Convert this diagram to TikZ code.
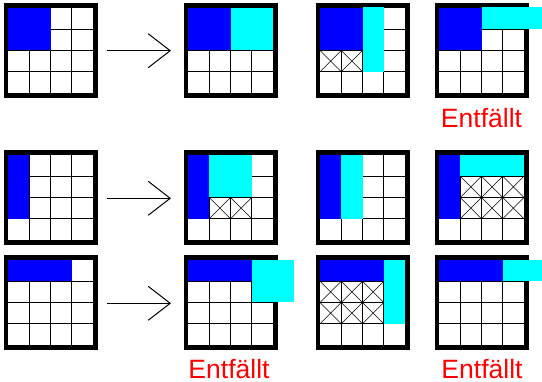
\documentclass[tikz,border=0pt]{standalone}
\usepackage{fontspec}
\setmainfont{Liberation Sans}
\usetikzlibrary{arrows.meta}
\definecolor{myblue}{RGB}{0,0,255}
\definecolor{mycyan}{RGB}{0,255,255}
\definecolor{myred}{RGB}{255,0,0}
\def\cw{21.25}
\tikzset{
  gl/.style={draw=black, line width=0.8pt},
  xl/.style={draw=black, line width=0.7pt},
  frame/.style={draw=black, line width=4.6pt},
  bluefill/.style={fill=myblue},
  cyanfill/.style={fill=mycyan},
  lbl/.style={text=myred, font=\fontsize{26.5pt}{30pt}\selectfont, inner sep=0pt, anchor=base},
  arr/.style={draw=black, line width=1pt, -{Straight Barb[length=22pt,width=34pt]}}
}
\newcommand\mygridlines{%
  \foreach \i in {1,2,3} {\draw[gl] (\i*\cw,0) -- (\i*\cw,85); \draw[gl] (0,\i*\cw) -- (85,\i*\cw);}}
\newcommand\myxcell[2]{\draw[xl] (#1*\cw,#2*\cw) -- ++(\cw,\cw) (#1*\cw+\cw,#2*\cw) -- ++(-\cw,\cw);}
\newcommand\myframe{\draw[frame] (-2.2,-2.2) rectangle (87.4,87.4);}
\begin{document}
\begin{tikzpicture}[x=1pt,y=-1pt]
\useasboundingbox (0,0) rectangle (542,382);
% ---------- row 1 ----------
\begin{scope}[shift={(8,8)}]
  \mygridlines
  \fill[bluefill] (0,0) rectangle (2*\cw,2*\cw);
  \myframe
\end{scope}
\begin{scope}[shift={(188,8)}]
  \mygridlines
  \fill[bluefill] (0,0) rectangle (2*\cw,2*\cw);
  \myframe
  \fill[cyanfill] (2*\cw,0) rectangle (4*\cw,2*\cw);
\end{scope}
\begin{scope}[shift={(320,8)}]
  \mygridlines
  \myxcell{0}{2}\myxcell{1}{2}
  \fill[bluefill] (0,0) rectangle (2*\cw,2*\cw);
  \myframe
  \fill[cyanfill] (2*\cw,-1.3) rectangle (3*\cw,3*\cw);
\end{scope}
\begin{scope}[shift={(439,8)}]
  \mygridlines
  \fill[bluefill] (0,0) rectangle (2*\cw,2*\cw);
  \myframe
  \fill[cyanfill] (2*\cw,-0.7) rectangle (103,\cw);
\end{scope}
% ---------- row 2 ----------
\begin{scope}[shift={(8,155)}]
  \mygridlines
  \fill[bluefill] (0,0) rectangle (\cw,3*\cw);
  \myframe
\end{scope}
\begin{scope}[shift={(188,155)}]
  \mygridlines
  \myxcell{1}{2}\myxcell{2}{2}
  \fill[bluefill] (0,0) rectangle (\cw,3*\cw);
  \myframe
  \fill[cyanfill] (\cw,0) rectangle (3*\cw,2*\cw);
\end{scope}
\begin{scope}[shift={(320,155)}]
  \mygridlines
  \fill[bluefill] (0,0) rectangle (\cw,3*\cw);
  \myframe
  \fill[cyanfill] (\cw,0) rectangle (2*\cw,3*\cw);
\end{scope}
\begin{scope}[shift={(439,155)}]
  \mygridlines
  \foreach \i in {1,2,3} {\foreach \j in {1,2} {\myxcell{\i}{\j}}}
  \fill[bluefill] (0,0) rectangle (\cw,3*\cw);
  \myframe
  \fill[cyanfill] (\cw,0) rectangle (4*\cw,\cw);
\end{scope}
% ---------- row 3 ----------
\begin{scope}[shift={(8,260)}]
  \mygridlines
  \fill[bluefill] (0,0) rectangle (3*\cw,\cw);
  \myframe
\end{scope}
\begin{scope}[shift={(188,260)}]
  \mygridlines
  \fill[bluefill] (0,0) rectangle (3*\cw,\cw);
  \myframe
  \fill[cyanfill] (3*\cw,0.5) rectangle (5*\cw,2*\cw);
\end{scope}
\begin{scope}[shift={(320,260)}]
  \mygridlines
  \foreach \i in {0,1,2} {\foreach \j in {1,2} {\myxcell{\i}{\j}}}
  \fill[bluefill] (0,0) rectangle (3*\cw,\cw);
  \myframe
  \fill[cyanfill] (3*\cw,0) rectangle (4*\cw,3*\cw);
\end{scope}
\begin{scope}[shift={(439,260)}]
  \mygridlines
  \fill[bluefill] (0,0) rectangle (3*\cw,\cw);
  \myframe
  \fill[cyanfill] (3*\cw,0) rectangle (103,\cw);
\end{scope}
% ---------- arrows ----------
\coordinate (a1s) at (107,50.7);  \coordinate (a1e) at (171,50.7);
\coordinate (a2s) at (107,198.3); \coordinate (a2e) at (171,198.3);
\coordinate (a3s) at (107,303.3); \coordinate (a3e) at (171,303.3);
\draw[arr] (a1s) -- (a1e);
\draw[arr] (a2s) -- (a2e);
\draw[arr] (a3s) -- (a3e);
% ---------- labels ----------
\node[lbl] (l1) at (481.5,127.5) {Entfällt};
\node[lbl] (l2) at (229,378.5) {Entfällt};
\node[lbl] (l3) at (482,378.5) {Entfällt};
\end{tikzpicture}
\end{document}
